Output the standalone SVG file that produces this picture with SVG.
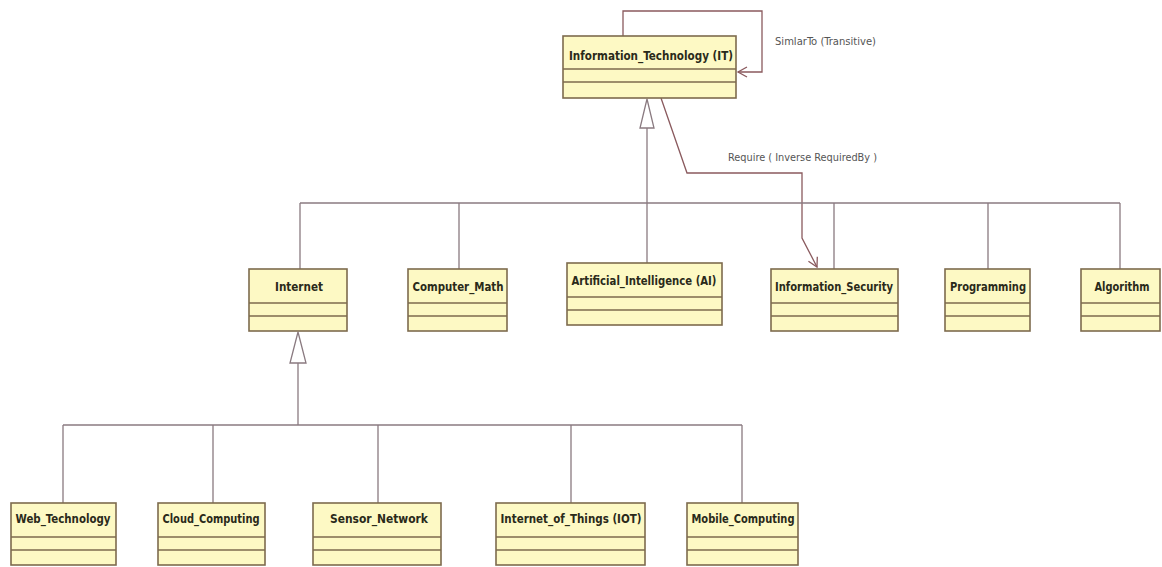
<svg xmlns="http://www.w3.org/2000/svg" width="1162" height="567" viewBox="0 0 1162 567">
<style>
.box{fill:#fdf9c4;stroke:#7d6b4e;stroke-width:1.6}
.div{stroke:#7d6b4e;stroke-width:1.6}
.t{font-family:"DejaVu Sans Condensed","DejaVu Sans",sans-serif;font-weight:bold;font-size:12px;fill:#2a2a1a;text-anchor:middle}
.lbl{font-family:"DejaVu Sans Condensed","DejaVu Sans",sans-serif;font-size:11px;fill:#555}
.c{fill:none;stroke:#8a7a80;stroke-width:1.3}
.r{fill:none;stroke:#8a5a5e;stroke-width:1.3}
.tri{fill:#fff;stroke:#8a7a80;stroke-width:1.3}
</style>
<defs>
<marker id="open" markerWidth="12" markerHeight="12" refX="10" refY="6" orient="auto" markerUnits="userSpaceOnUse">
<path d="M1,1 L10,6 L1,11" fill="none" stroke="#8a5a5e" stroke-width="1.3"/>
</marker>
</defs>
<rect width="1162" height="567" fill="#fff"/>
<g id="connectors">
<path class="r" d="M623,36 V11 H762 V72 H738" marker-end="url(#open)"/>
<path class="r" d="M661,98 L687,173 H802 V238 L817,267" marker-end="url(#open)"/>
<path class="c" d="M647,128 V263"/>
<polygon class="tri" points="647,99 640,128 654,128"/>
<path class="c" d="M300,203 H1120"/>
<path class="c" d="M300,203 V269 M459,203 V269 M834,203 V269 M988,203 V269 M1120,203 V269"/>
<polygon class="tri" points="298,332 290,363 306,363"/>
<path class="c" d="M298,363 V425"/>
<path class="c" d="M63,425 H742"/>
<path class="c" d="M63,425 V503 M213,425 V503 M378,425 V503 M571,425 V503 M742,425 V503"/>
<text class="lbl" x="775" y="45" textLength="101" lengthAdjust="spacingAndGlyphs">SimlarTo (Transitive)</text>
<text class="lbl" x="728" y="161" textLength="149" lengthAdjust="spacingAndGlyphs">Require ( Inverse RequiredBy )</text>
</g>
<g id="IT">
<rect class="box" x="563" y="36" width="173" height="62"/>
<path class="div" d="M563,69 H736 M563,82 H736"/>
<text class="t" x="651" y="60" textLength="164" lengthAdjust="spacingAndGlyphs">Information_Technology (IT)</text>
</g>
<g id="Internet">
<rect class="box" x="249" y="269" width="98" height="62"/>
<path class="div" d="M249,303 H347 M249,316 H347"/>
<text class="t" x="299" y="291" textLength="48" lengthAdjust="spacingAndGlyphs">Internet</text>
</g>
<g id="Computer_Math">
<rect class="box" x="408" y="269" width="99" height="62"/>
<path class="div" d="M408,303 H507 M408,316 H507"/>
<text class="t" x="458" y="291" textLength="91" lengthAdjust="spacingAndGlyphs">Computer_Math</text>
</g>
<g id="AI">
<rect class="box" x="567" y="263" width="155" height="62"/>
<path class="div" d="M567,297 H722 M567,310 H722"/>
<text class="t" x="644" y="285" textLength="145" lengthAdjust="spacingAndGlyphs">Artificial_Intelligence (AI)</text>
</g>
<g id="Information_Security">
<rect class="box" x="771" y="269" width="127" height="62"/>
<path class="div" d="M771,303 H898 M771,316 H898"/>
<text class="t" x="834" y="291" textLength="118" lengthAdjust="spacingAndGlyphs">Information_Security</text>
</g>
<g id="Programming">
<rect class="box" x="945" y="269" width="85" height="62"/>
<path class="div" d="M945,303 H1030 M945,316 H1030"/>
<text class="t" x="988" y="291" textLength="76" lengthAdjust="spacingAndGlyphs">Programming</text>
</g>
<g id="Algorithm">
<rect class="box" x="1081" y="269" width="79" height="62"/>
<path class="div" d="M1081,303 H1160 M1081,316 H1160"/>
<text class="t" x="1122" y="291" textLength="55" lengthAdjust="spacingAndGlyphs">Algorithm</text>
</g>
<g id="Web_Technology">
<rect class="box" x="11" y="503" width="105" height="62"/>
<path class="div" d="M11,537 H116 M11,550 H116"/>
<text class="t" x="63" y="523" textLength="95" lengthAdjust="spacingAndGlyphs">Web_Technology</text>
</g>
<g id="Cloud_Computing">
<rect class="box" x="158" y="503" width="107" height="62"/>
<path class="div" d="M158,537 H265 M158,550 H265"/>
<text class="t" x="211" y="523" textLength="97" lengthAdjust="spacingAndGlyphs">Cloud_Computing</text>
</g>
<g id="Sensor_Network">
<rect class="box" x="313" y="503" width="128" height="62"/>
<path class="div" d="M313,537 H441 M313,550 H441"/>
<text class="t" x="379" y="523" textLength="98" lengthAdjust="spacingAndGlyphs">Sensor_Network</text>
</g>
<g id="IOT">
<rect class="box" x="496" y="503" width="149" height="62"/>
<path class="div" d="M496,537 H645 M496,550 H645"/>
<text class="t" x="571" y="523" textLength="141" lengthAdjust="spacingAndGlyphs">Internet_of_Things (IOT)</text>
</g>
<g id="Mobile_Computing">
<rect class="box" x="687" y="503" width="111" height="62"/>
<path class="div" d="M687,537 H798 M687,550 H798"/>
<text class="t" x="743" y="523" textLength="103" lengthAdjust="spacingAndGlyphs">Mobile_Computing</text>
</g>
</svg>
